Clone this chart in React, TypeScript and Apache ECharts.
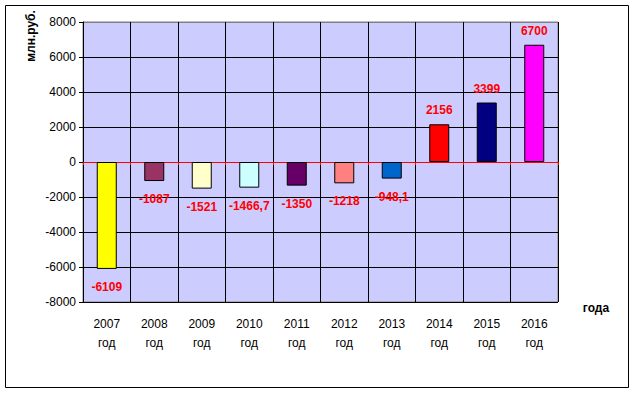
import React, { useEffect, useRef } from "react";
import * as echarts from "echarts";

const years = ["2007", "2008", "2009", "2010", "2011", "2012", "2013", "2014", "2015", "2016"];
const categories = years.map((y) => y + "\nгод");
const values = [-6109, -1087, -1521, -1466.7, -1350, -1218, -948.1, 2156, 3399, 6700];
const barColors = ["#FFFF00", "#993366", "#FFFFCC", "#CCFFFF", "#660066", "#FF8080", "#0066CC", "#FF0000", "#000080", "#FF00FF"];
const yMin = -8000;
const yMax = 8000;
const yInterval = 2000;
const yAxisTitle = "млн.руб.";
const xAxisTitle = "года";

export default function App() {
  const ref = useRef<HTMLDivElement>(null);
  useEffect(() => {
    if (!ref.current) return;
    const chart = echarts.init(ref.current, null, { renderer: "svg" });
    const font = "Arial, 'Liberation Sans', sans-serif";
    chart.setOption({
      animation: false,
      backgroundColor: "#FFFFFF",
      grid: {
        left: 83,
        right: 77,
        top: 22,
        bottom: 91,
        show: true,
        backgroundColor: "#CCCCFF",
        borderColor: "#808080",
        borderWidth: 1,
      },
      graphic: [
        {
          type: "rect",
          shape: { x: 5.5, y: 5.5, width: 623, height: 382 },
          style: { fill: "none", stroke: "#000000", lineWidth: 1 },
          silent: true,
        },
        {
          type: "text",
          x: 31,
          y: 36,
          rotation: Math.PI / 2,
          style: {
            text: yAxisTitle,
            font: "bold 12px " + font,
            fill: "#000000",
            textAlign: "center",
            textVerticalAlign: "middle",
          },
        },
        {
          type: "text",
          x: 596,
          y: 308,
          style: {
            text: xAxisTitle,
            font: "bold 12px " + font,
            fill: "#000000",
            textAlign: "center",
            textVerticalAlign: "middle",
          },
        },
      ],
      xAxis: [
        {
          type: "category",
          data: categories,
          position: "bottom",
          axisLine: { show: false, onZero: false },
          axisTick: { show: false },
          axisLabel: {
            color: "#000000",
            fontFamily: font,
            fontSize: 12,
            lineHeight: 19,
            margin: 12,
            interval: 0,
          },
          splitLine: { show: true, lineStyle: { color: "#000000", width: 1 } },
        },
        {
          type: "category",
          data: categories,
          position: "bottom",
          axisLine: { show: true, onZero: true, lineStyle: { color: "#FF0000", width: 1 } },
          axisTick: { show: true, inside: false, length: 3, lineStyle: { color: "#FF0000" } },
          axisLabel: { show: false },
          splitLine: { show: false },
        },
      ],
      yAxis: {
        type: "value",
        min: yMin,
        max: yMax,
        interval: yInterval,
        axisLine: { show: true, lineStyle: { color: "#000000", width: 1 } },
        axisTick: { show: true, length: 4, lineStyle: { color: "#000000" } },
        axisLabel: {
          color: "#000000",
          fontFamily: font,
          fontSize: 12,
          margin: 7,
          formatter: (v: number) => String(v),
        },
        splitLine: {
          show: true,
          lineStyle: {
            color: ["#000000", "#000000", "#000000", "#000000", "#000000", "#000000", "#000000", "#000000", "#808080"],
            width: 1,
          },
        },
      },
      series: [
        {
          type: "bar",
          xAxisIndex: 0,
          barWidth: 20,
          z: 3,
          data: values.map((v, i) => ({
            value: v,
            itemStyle: { color: barColors[i], borderColor: "#000000", borderWidth: 1 },
            label: {
              show: true,
              position: v >= 0 ? "top" : "bottom",
              distance: v >= 0 ? 8 : 12,
            },
          })),
          label: {
            color: "#FF0000",
            fontFamily: font,
            fontWeight: "bold",
            fontSize: 12,
            formatter: (p: any) => String(p.value).replace(".", ","),
          },
        },
      ],
    });
    return () => chart.dispose();
  }, []);
  return (
    <div
      ref={ref}
      style={{ position: "fixed", left: 0, top: 0, width: 635, height: 393 }}
    />
  );
}
